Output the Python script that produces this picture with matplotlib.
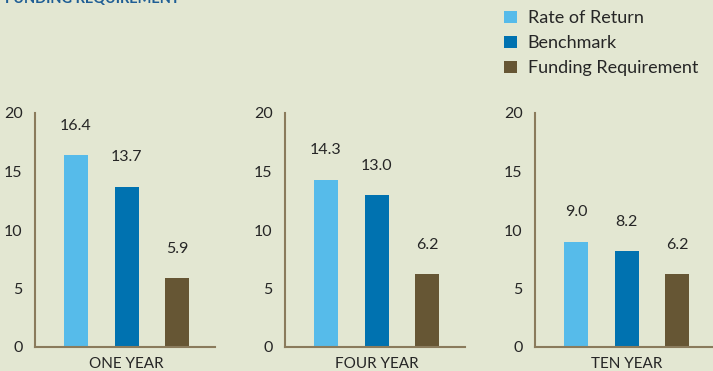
import matplotlib.pyplot as plt
from matplotlib.patches import Patch

# data
periods = ['ONE YEAR', 'FOUR YEAR', 'TEN YEAR']
series = ['Rate of Return', 'Benchmark', 'Funding Requirement']
rate_of_return = [16.4, 14.3, 9.0]
benchmark = [13.7, 13.0, 8.2]
funding_req = [5.9, 6.2, 6.2]
yticks = [0, 5, 10, 15, 20]

colors = ['#56BBEA', '#0072B0', '#665634']
bg = '#E3E7D2'
axis_col = '#8A7B5C'
txt_col = '#262626'

plt.rcParams['font.family'] = ['Lato', 'DejaVu Sans']

fig = plt.figure(figsize=(7.13, 3.71), dpi=100)
fig.patch.set_facecolor(bg)

W, H = 713, 371
lefts = [35, 285, 535]
for i, period in enumerate(periods):
    ax = fig.add_axes([lefts[i] / W, (H - 347) / H, 180 / W, (347 - 113) / H])
    ax.set_facecolor('none')
    vals = [rate_of_return[i], benchmark[i], funding_req[i]]
    xs = [0, 1, 2]
    ax.bar(xs, vals, width=0.475, color=colors)
    for x, v in zip(xs, vals):
        ax.text(x, v + 1.9, f'{v:.1f}', ha='center', va='bottom',
                fontsize=11.5, color=txt_col)
    ax.set_xlim(-0.81, 2.75)
    ax.set_ylim(0, 20)
    ax.set_yticks(yticks)
    ax.set_yticklabels([str(t) for t in yticks], fontsize=11.5, color=txt_col)
    ax.tick_params(axis='y', length=0, pad=9)
    ax.set_xticks([1])
    ax.set_xticklabels([period], fontsize=11, color=txt_col)
    ax.tick_params(axis='x', length=0, pad=7)
    for s in ['top', 'right']:
        ax.spines[s].set_visible(False)
    for s in ['left', 'bottom']:
        ax.spines[s].set_color(axis_col)
        ax.spines[s].set_linewidth(1.5)

# heading at the top-left, mostly above the picture as in the source
fig.text(5 / W, 1 - 3 / H, 'FUNDING REQUIREMENT', ha='left', va='baseline',
         fontsize=10.5, fontweight='bold', color='#1F5E95')

handles = [Patch(facecolor=c, edgecolor='none') for c in colors]
fig.legend(handles, series, loc='upper left', bbox_to_anchor=(488 / W, 1 + 6 / H),
           frameon=False, fontsize=13, handlelength=0.7, handleheight=0.7,
           handletextpad=0.6, labelspacing=0.5, labelcolor=txt_col)

fig.savefig('out.png', dpi=100, facecolor=bg)
